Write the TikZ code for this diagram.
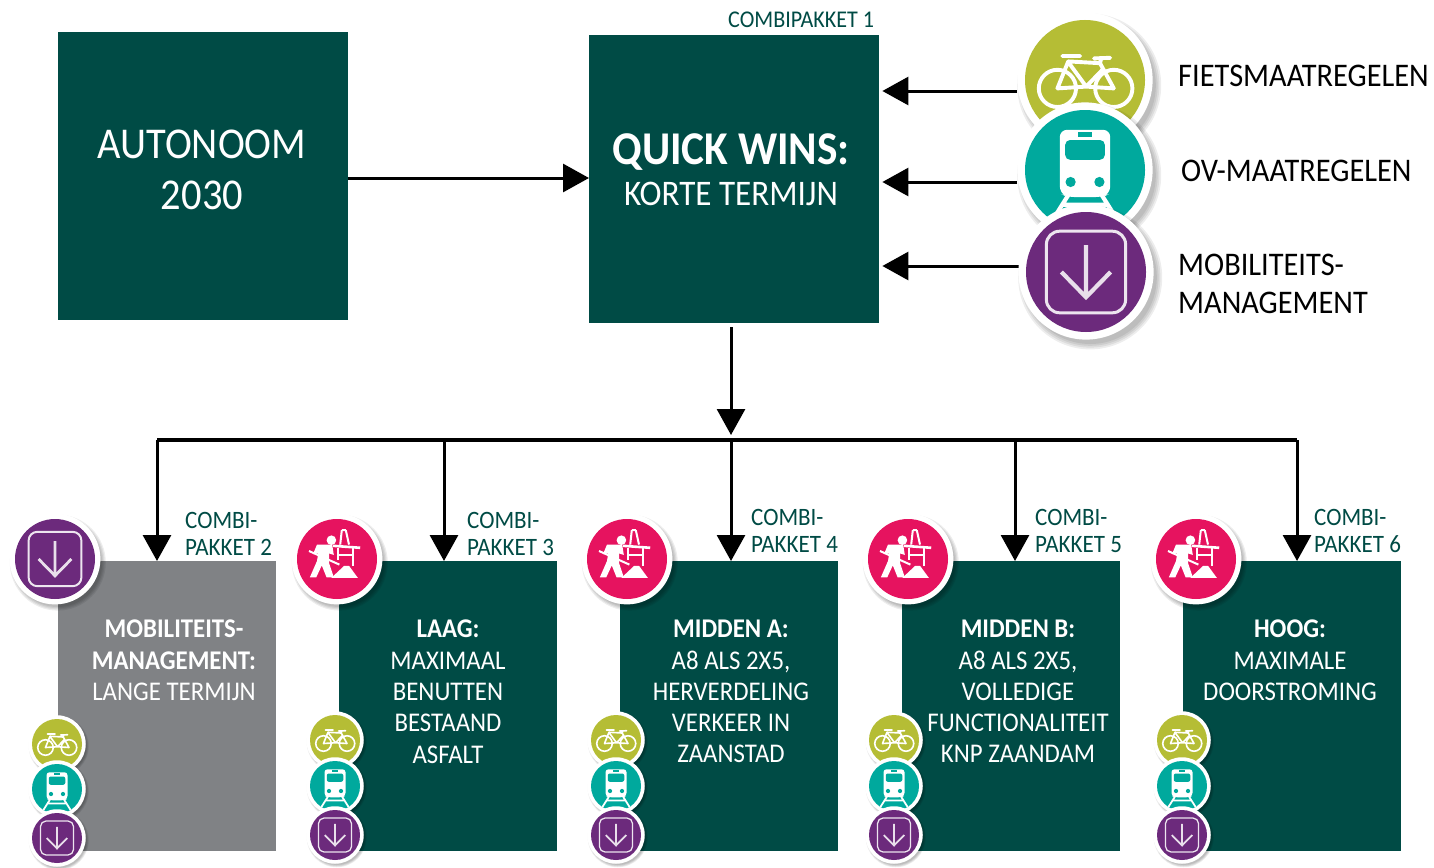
\documentclass[tikz,border=0pt]{standalone}
\usepackage{fontspec}
\setmainfont[FakeStretch=0.92]{Carlito}
\usetikzlibrary{arrows.meta,calc}
\definecolor{dkgreen}{HTML}{004B45}
\definecolor{pkgray}{HTML}{808285}
\definecolor{icgreen}{HTML}{B5BD35}
\definecolor{icteal}{HTML}{00A99D}
\definecolor{icpurple}{HTML}{6C2A7C}
\definecolor{icpink}{HTML}{E6135F}
\tikzset{
  x=1pt,y=-1pt,
  box/.style={fill=dkgreen,draw=none,minimum width=218pt,minimum height=290pt,inner sep=0pt,anchor=north west},
  bigbox/.style={box,minimum width=290pt,minimum height=288pt},
  grayfill/.style={fill=pkgray},
  conn/.style={draw=black,line width=3pt,-{Triangle[length=26pt,width=28pt]}},
  bar/.style={draw=black,line width=3.5pt},
  lab/.style={text=black,font=\fontsize{33}{38}\selectfont,align=left,anchor=west,inner sep=0pt},
  combi/.style={text=dkgreen,font=\fontsize{25}{27.5}\selectfont,align=left,anchor=west,inner sep=0pt},
  intext/.style={text=white,font=\fontsize{27}{31.3}\selectfont,align=center,anchor=north,inner sep=0pt},
  ic/.style={draw=white,line cap=round,line join=round},
}
\newcommand{\disc}[4]{%
  \foreach \k in {1.2,1.17,1.14,1.11}{\fill[black,opacity=.07] ({#1+.07*#3},{#2+.09*#3}) circle ({#3*\k});}
  \fill[white] (#1,#2) circle ({#3*1.11+1});
  \fill[#4] (#1,#2) circle (#3);
}
\newcommand{\bikeicon}[3]{\begin{scope}[shift={(#1,#2)},scale=#3]
  \draw[ic,line width=#3*.065pt] (-.46,.14) circle (.31) (.48,.14) circle (.31);
  \draw[ic,line width=#3*.065pt] (-.46,.14)--(-.28,-.31)--(.25,-.28)--(.48,.14) (-.28,-.3)--(.02,.11)--(-.46,.14) (.02,.11)--(.29,-.17) (.02,.11)--(.48,.14)
     (-.38,-.40)--(-.08,-.40) (.15,-.36)--(.42,-.37) (.27,-.36)--(.25,-.28);
\end{scope}}
\newcommand{\trainicon}[4]{\begin{scope}[shift={(#1,#2)},scale=#3]
  \clip (0,0) circle (1);
  \fill[white,rounded corners=#3*.12pt] (-.42,.39)--(-.42,-.67)--(.42,-.67)--(.42,.39)--(.3,.45)--(-.3,.45)--cycle;
  \fill[#4,rounded corners=#3*.08pt] (-.33,-.5) rectangle (.33,-.17);
  \fill[#4] (-.12,-.63) rectangle (.12,-.55);
  \fill[#4] (-.24,.2) circle (.085) (.24,.2) circle (.085);
  \draw[white,line width=#3*.07pt] (-.28,.42)--(-.55,.85) (.28,.42)--(.55,.85) (-.38,.58)--(.38,.58);
\end{scope}}
\newcommand{\arrowicon}[3]{\begin{scope}[shift={(#1,#2)},scale=#3]
  \draw[white!88!icpurple,line width=#3*.05pt,rounded corners=#3*.22pt] (-.66,-.68) rectangle (.66,.68);
  \draw[white!85!icpurple,line width=#3*.07pt] (0,-.45)--(0,.42) (-.41,.0)--(0,.42)--(.41,.0);
\end{scope}}
\newcommand{\workericon}[3]{\begin{scope}[shift={(#1,#2)},scale=#3]
  \fill[white] (-.14,-.47) circle (.12);
  \fill[white] (-.5,-.36)--(-.12,-.36)--(-.08,-.1)--(-.2,-.14)--(-.2,.1)--(-.08,.46)--(-.26,.46)--(-.38,.16)--(-.52,.46)--(-.68,.46)--(-.5,.05)--(-.47,-.14)--(-.6,-.12)--cycle;
  \draw[white,line width=#3*.05pt] (-.7,-.2)--(.06,.14);
  \fill[white] (-.14,.47)--(.18,.17)--(.3,.17)--(.52,.47)--cycle;
  \draw[white,line width=#3*.05pt] (.12,-.72)--(.08,-.36) (.22,-.72)--(.3,-.36) (.12,-.72)--(.22,-.72);
  \draw[white,line width=#3*.065pt] (-.1,-.33)--(.58,-.28);
  \draw[white,line width=#3*.045pt] (.02,-.28)--(.02,.02) (.4,-.28)--(.4,.18) (.02,-.1)--(.4,-.1);
\end{scope}}
\newcommand{\greendisc}[3]{\disc{#1}{#2}{#3}{icgreen}\bikeicon{#1}{#2}{#3}}
\newcommand{\tealdisc}[3]{\disc{#1}{#2}{#3}{icteal}\trainicon{#1}{#2}{#3}{icteal}}
\newcommand{\purpledisc}[3]{\disc{#1}{#2}{#3}{icpurple}\arrowicon{#1}{#2}{#3}}
\newcommand{\pinkdisc}[3]{\disc{#1}{#2}{#3}{icpink}\workericon{#1}{#2}{#3}}
\begin{document}
\begin{tikzpicture}[x=1pt,y=-1pt]
\useasboundingbox (0,0) rectangle (1434,867);
\fill[white] (0,0) rectangle (1434,867);
\node[bigbox] (auto) at (58,32) {};
\node[bigbox] (qw) at (589,35) {};
\node[box,grayfill] (p2) at (58,561) {};
\node[box] (p3) at (339,561) {};
\node[box] (p4) at (620,561) {};
\node[box] (p5) at (902,561) {};
\node[box] (p6) at (1183,561) {};
\node[intext,font=\fontsize{44}{51}\selectfont] (t1) at (202,130) {AUTONOOM\\2030};
\node[intext,font=\fontsize{36}{41}\selectfont] (t2) at (731,133) {\textbf{\fontsize{47}{44}\selectfont QUICK WINS:}\\KORTE TERMIJN};
\node[intext] (t3) at (174,620) {\textbf{MOBILITEITS-}\\\textbf{MANAGEMENT:}\\LANGE TERMIJN};
\node[intext] (t4) at (448,620) {\textbf{LAAG:}\\MAXIMAAL\\BENUTTEN\\BESTAAND\\ASFALT};
\node[intext] (t5) at (731,620) {\textbf{MIDDEN A:}\\A8 ALS 2X5,\\HERVERDELING\\VERKEER IN\\ZAANSTAD};
\node[intext] (t6) at (1018,620) {\textbf{MIDDEN B:}\\A8 ALS 2X5,\\VOLLEDIGE\\FUNCTIONALITEIT\\KNP ZAANDAM};
\node[intext] (t7) at (1290,620) {\textbf{HOOG:}\\MAXIMALE\\DOORSTROMING};
\node[combi,anchor=west,font=\fontsize{24}{27.5}\selectfont] (c1) at (728,20) {COMBIPAKKET 1};
\node[combi] (c2) at (185,534) {COMBI-\\PAKKET 2};
\node[combi] (c3) at (467,534) {COMBI-\\PAKKET 3};
\node[combi] (c4) at (751,531) {COMBI-\\PAKKET 4};
\node[combi] (c5) at (1035,531) {COMBI-\\PAKKET 5};
\node[combi] (c6) at (1314,531) {COMBI-\\PAKKET 6};
\node[lab] (l1) at (1178,76) {FIETSMAATREGELEN};
\node[lab] (l2) at (1181,171) {OV-MAATREGELEN};
\node[lab] (l3) at (1178,284) {MOBILITEITS-\\MANAGEMENT};
\coordinate (g1) at (1017,91);
\coordinate (g2) at (1017,182);
\coordinate (g3) at (1021,266);
\coordinate (bar) at (731,440);
\coordinate (barL) at (157,440);
\coordinate (barR) at (1297,440);
\coordinate (drop3) at (444,440);
\coordinate (drop5) at (1015,440);
\draw[conn] (auto.east|-0,178) -- (qw.west|-0,178);
\draw[conn,shorten >=3pt] (g1) -- (qw.east|-g1);
\draw[conn,shorten >=3pt] (g2) -- (qw.east|-g2);
\draw[conn,shorten >=3pt] (g3) -- (qw.east|-g3);
\draw[conn,shorten <=4pt,shorten >=5pt] (qw.south-|bar) -- (bar);
\draw[bar] (barL) -- (barR);
\draw[conn] (barL) -- (barL|-p2.north);
\draw[conn] (drop3) -- (drop3|-p3.north);
\draw[conn] (bar) -- (bar|-p4.north);
\draw[conn] (drop5) -- (drop5|-p5.north);
\draw[conn] (barR) -- (barR|-p6.north);
\greendisc{1085}{80}{60}
\tealdisc{1085}{170}{60}
\purpledisc{1086}{272}{60}
\purpledisc{55}{559}{40}
\pinkdisc{337}{559}{40}
\pinkdisc{627}{559}{40}
\pinkdisc{908}{559}{40}
\pinkdisc{1196}{559}{40}
\foreach \x/\a/\b/\c in {57/744/789/838,335/740/786/835,616/740/786/835,894/740/786/835,1182/740/786/835}{
  \greendisc{\x}{\a}{25}
  \tealdisc{\x}{\b}{25}
  \purpledisc{\x}{\c}{25}
}
\end{tikzpicture}
\end{document}
